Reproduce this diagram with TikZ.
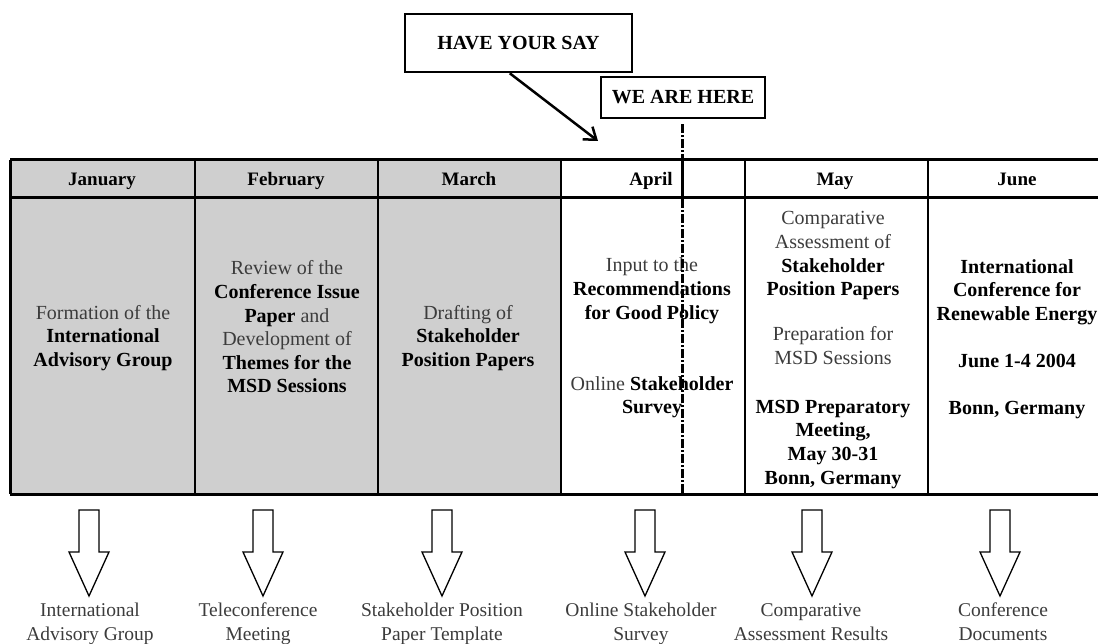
\documentclass[tikz,border=0pt]{standalone}
\usepackage{fontspec}
\setmainfont{Liberation Serif}
\usetikzlibrary{arrows.meta}
\definecolor{cellgray}{RGB}{207,207,207}
\definecolor{txtgray}{RGB}{60,60,60}
\newcommand\bk[1]{\textcolor{black}{\bfseries #1}}
\begin{document}
\begin{tikzpicture}[x=1pt,y=-1pt,
  body/.style={font=\fontsize{20}{23.6}\selectfont, align=center, text=txtgray, inner sep=0pt},
  hdr/.style={font=\fontsize{19}{22}\selectfont\bfseries, inner sep=0pt, anchor=base},
  callout/.style={draw, line width=2.5pt, fill=white, inner sep=0pt, font=\fontsize{20}{24}\selectfont\bfseries},
  outcome/.style={font=\fontsize{19.5}{24}\selectfont, align=center, text=txtgray, inner sep=0pt, text height=14pt, text depth=3pt},
  blockarrow/.style={draw, line width=1.3pt, fill=white, line join=miter},
  thickrule/.style={line width=3pt},
  colrule/.style={line width=2.5pt},
  herepath/.style={line width=3pt, dash pattern=on 9pt off 2pt on 2pt off 2pt},
  herehead/.style={line width=3pt},
  sayarrow/.style={line width=2.5pt, -{Straight Barb[length=11pt, width=16pt, line width=2.5pt]}}
]
\useasboundingbox (0,0) rectangle (1098,644);
\clip (0,0) rectangle (1098,644);

% table background
\fill[cellgray] (10,160) rectangle (561,495);

% table rules
\draw[thickrule] (10,160) -- (1110,160);
\draw[thickrule] (10,198) -- (1110,198);
\draw[thickrule] (10,494) -- (1110,494);
\draw[thickrule] (10,160) -- (10,494);
\foreach \xx in {195,378,561,745,928}
  \draw[colrule] (\xx,160) -- (\xx,494);

% headers
\node[hdr] (hjan) at (102,186) {January};
\node[hdr] (hfeb) at (286,186) {February};
\node[hdr] (hmar) at (469,186) {March};
\node[hdr] (hapr) at (651,186) {April};
\node[hdr] (hmay) at (835,186) {May};
\node[hdr] (hjun) at (1017,186) {June};

% cell texts
\node[body] (cjan) at (103,338) {Formation of the\\ \bk{International}\\ \bk{Advisory Group}};
\node[body] (cfeb) at (287,327) {Review of the\\ \bk{Conference Issue}\\ \bk{Paper} and\\ Development of\\ \bk{Themes for the}\\ \bk{MSD Sessions}};
\node[body] (cmar) at (468,338) {Drafting of\\ \bk{Stakeholder}\\ \bk{Position Papers}};
\node[body] (capr) at (652,338) {Input to the\\ \bk{Recommendations}\\ \bk{for Good Policy}\\[47.4pt] Online \bk{Stakeholder}\\ \bk{Survey}};
\node[body] (cmay) at (833,350) {Comparative\\ Assessment of\\ \bk{Stakeholder}\\ \bk{Position Papers}\\[21.4pt] Preparation for\\ MSD Sessions\\[25.4pt] \bk{MSD Preparatory}\\ \bk{Meeting,}\\ \bk{May 30-31}\\ \bk{Bonn, Germany}};
\node[body] (cjun) at (1017,339) {\bk{International}\\ \bk{Conference for}\\ \bk{Renewable Energy}\\[23.6pt] \bk{June 1-4 2004}\\[23pt] \bk{Bonn, Germany}};

% outcomes
\node[outcome] (ojan) at (90,635) {International\\ Advisory Group};
\node[outcome] (ofeb) at (258,635) {Teleconference\\ Meeting};
\node[outcome] (omar) at (442,635) {Stakeholder Position\\ Paper Template};
\node[outcome] (oapr) at (641,635) {Online Stakeholder\\ Survey};
\node[outcome] (omay) at (811,635) {Comparative\\ Assessment Results};
\node[outcome] (ojun) at (1003,635) {Conference\\ Documents};

% block arrows
\foreach \cx in {89,263,442,645,812,1000}
  \draw[blockarrow] (\cx-10,510) -- (\cx+10,510) -- (\cx+10,552) -- (\cx+20,552)
     -- (\cx,596) -- (\cx-20,552) -- (\cx-10,552) -- cycle;

% callouts
\node[callout, minimum width=227pt, minimum height=58pt] (say) at (518.5,43) {HAVE YOUR SAY};
\node[callout, minimum width=164pt, minimum height=41pt] (here) at (683,97.5) {WE ARE HERE};

\path (say.south west) ++(106,0) coordinate (saystart);
\coordinate (saytip) at (598,141);
\draw[sayarrow] (saystart) -- (saytip);

\coordinate (hereend) at (682,494);
\coordinate (herehdr) at (682,198);
\draw[herepath] ([yshift=-5pt]here.south -| hereend) -- (hereend);
\draw[herehead] (682,160) -- (herehdr);
\end{tikzpicture}
\end{document}
